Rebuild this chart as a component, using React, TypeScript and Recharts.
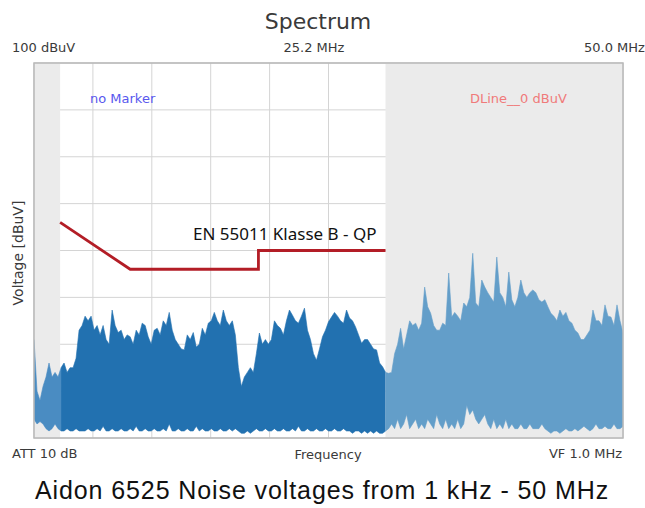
import React from "react";
import {
  ComposedChart,
  Area,
  Line,
  XAxis,
  YAxis,
  CartesianGrid,
  ReferenceArea,
} from "recharts";

// sweep: 0.4 MHz .. 50 MHz, one reading every ~0.25 MHz
const sweepStartMHz = 0.4;
const sweepStopMHz = 50;

// upper edge of the measured noise (dBuV)
const noiseHigh = [
  41, 30, 28, 31, 33, 36, 33, 34, 33, 35,
  36, 34, 35, 35, 37, 43, 44, 46, 45, 46,
  43, 44, 42, 44, 41, 40, 47.3, 44, 42.5, 43,
  41, 42, 41.6, 40, 43, 42, 44.5, 44, 41.6, 40,
  43, 43.4, 42, 45, 44, 46.8, 43, 41, 40, 39,
  38.8, 42, 41, 42.5, 39.4, 40, 43.4, 42, 44.5, 45,
  46.8, 45, 44, 47.3, 45, 44, 45, 42, 35, 31,
  33, 34, 35, 34, 38, 42.4, 40, 41, 40, 41,
  45, 44, 43.4, 42, 45, 47.3, 46.2, 45, 44.5, 46,
  47.7, 43, 41, 38, 36.6, 39, 41.6, 43, 44.8, 45.8,
  46.8, 46, 45, 44.5, 47.3, 45.6, 45, 43.7, 42, 40.2,
  41, 41, 40, 39, 38.8, 36, 35.2, 34, 33.8, 34,
  38, 40, 43.4, 39, 42, 45, 44, 44.5, 43, 44.5,
  52.2, 48, 46.6, 44, 43, 43, 44.5, 44, 55.2, 45.8,
  46.8, 46, 45, 48.8, 48, 50, 59.4, 48.8, 48, 53.7,
  52.2, 51, 50, 49, 58.6, 51, 50, 48, 55.4, 49.5,
  48, 50, 53.7, 51, 50, 51, 51.6, 51, 49.5, 49,
  49.5, 48, 46.6, 46, 45, 47.3, 46, 46.8, 45, 44.5,
  43, 42.4, 41, 41, 42, 43, 47.3, 45, 45, 44,
  48.4, 46, 45.8, 44, 48.4, 45, 42.4,
];

// lower edge of the measured noise (dBuV)
const noiseLow = [
  24, 23, 23.5, 23, 22, 21.5, 22, 23, 22, 21.5,
  21.5, 22, 21.5, 21.5, 22, 21.5, 21.5, 21.5, 22, 21.5,
  21.5, 22, 21.5, 22.5, 21.5, 21.5, 22, 21.5, 21.5, 22,
  21.5, 21.5, 22, 21.5, 22.5, 21.5, 21.5, 22, 21.5, 21.5,
  22, 21.5, 21.5, 22, 21.5, 23, 21.5, 21.5, 22, 21.5,
  21.5, 22, 21.5, 21.5, 22.5, 21.5, 22, 21.5, 21.5, 22,
  21.5, 21.5, 22, 21.5, 21.5, 22, 21.5, 22, 21.5, 21,
  21, 21.5, 21, 21.5, 22, 21.5, 21.5, 22, 21.5, 21.5,
  22, 21.5, 21.5, 22, 21.5, 21.5, 22, 21.5, 22.5, 21.5,
  21.5, 22, 21.5, 21.5, 22, 21.5, 21.5, 22, 21.5, 21.5,
  22, 21.5, 21.5, 22, 21.5, 21.5, 21, 21.5, 21.5, 21,
  21.5, 21, 21.5, 21, 21.5, 21, 21, 21.5, 22, 23,
  22, 24, 22, 23, 25, 22, 23, 24, 22, 23,
  22, 24, 23, 22, 25, 23, 22, 24, 22, 23,
  22, 24, 22, 23, 27, 25, 26, 24, 23, 24,
  25, 23, 22, 24, 22, 23, 22, 24, 22, 23,
  22, 22, 23, 22, 22, 23, 22, 22, 22, 23,
  22, 21.5, 21, 21.5, 21.5, 21, 21.5, 22, 21.5, 21.5,
  22, 21.5, 22, 22.5, 22, 21.5, 22, 23, 22, 22,
  22.5, 22, 22, 23, 22, 22, 22.5,
];

// where the shaded bands end (sweep index)
const stripEndIndex = 9;
const limitEndIndex = 117;

// EN 55011 class B quasi-peak limit
const limitFreq = [2.6, 8.5, 19.3, 19.3, 30];
const limitLevel = [66, 56, 56, 60, 60];

const freqTicks = [0.4, 5.36, 10.32, 15.28, 20.24, 25.2, 30.16, 35.12, 40.08, 45.04, 50];
const levelTicks = [20, 30, 40, 50, 60, 70, 80, 90, 100];

const stripEndMHz = 2.6;
const limitEndMHz = 30;

const step = (sweepStopMHz - sweepStartMHz) / (noiseHigh.length - 1);
const noiseRows = noiseHigh.map((high, i) => {
  const band = [noiseLow[i], high];
  return {
    f: sweepStartMHz + i * step,
    strip: i <= stripEndIndex ? band : null,
    dark: i >= stripEndIndex && i <= limitEndIndex ? band : null,
    light: i >= limitEndIndex ? band : null,
  };
});

const limitRows = limitFreq.map((f, i) => ({ f, level: limitLevel[i] }));

const txt = (
  text: string,
  left: number,
  top: number,
  style: React.CSSProperties = {}
) => (
  <div
    style={{
      position: "absolute",
      left,
      top,
      whiteSpace: "nowrap",
      lineHeight: 1,
      fontFamily: "'DejaVu Sans', sans-serif",
      fontSize: 13,
      color: "#3a3a3a",
      ...style,
    }}
  >
    {text}
  </div>
);

export default function App() {
  return (
    <div
      style={{
        position: "absolute",
        left: 0,
        top: 0,
        width: 645,
        height: 508,
        background: "#fff",
        overflow: "hidden",
      }}
    >
      <ComposedChart
        width={645}
        height={508}
        data={noiseRows}
        margin={{ top: 63, right: 22, bottom: 70, left: 34 }}
      >
        <XAxis
          dataKey="f"
          type="number"
          domain={[sweepStartMHz, sweepStopMHz]}
          ticks={freqTicks}
          allowDataOverflow
          hide
        />
        <YAxis type="number" domain={[20, 100]} ticks={levelTicks} hide />

        {/* shaded regions outside the limit range */}
        <ReferenceArea x1={sweepStartMHz} x2={stripEndMHz} y1={20} y2={100} fill="#ebebeb" fillOpacity={1} />
        <ReferenceArea x1={limitEndMHz} x2={sweepStopMHz} y1={20} y2={100} fill="#ebebeb" fillOpacity={1} />

        <CartesianGrid stroke="#d4d4d4" strokeWidth={1} />

        <Area
          dataKey="strip"
          type="linear"
          stroke="#4a8cc2"
          strokeWidth={0.6}
          fill="#4a8cc2"
          fillOpacity={1}
          isAnimationActive={false}
        />
        <Area
          dataKey="dark"
          type="linear"
          stroke="#2271b0"
          strokeWidth={0.6}
          fill="#2271b0"
          fillOpacity={1}
          isAnimationActive={false}
        />
        <Area
          dataKey="light"
          type="linear"
          stroke="#639ec9"
          strokeWidth={0.6}
          fill="#639ec9"
          fillOpacity={1}
          isAnimationActive={false}
        />

        <Line
          data={limitRows}
          dataKey="level"
          type="linear"
          stroke="#b31d26"
          strokeWidth={2.8}
          dot={false}
          isAnimationActive={false}
        />

        <ReferenceArea
          x1={sweepStartMHz}
          x2={sweepStopMHz}
          y1={20}
          y2={100}
          fill="none"
          stroke="#b8b8b8"
          strokeWidth={1.5}
        />
      </ComposedChart>

      {txt("Spectrum", 318, 11, { fontSize: 22, transform: "translateX(-50%)" })}
      {txt("100 dBuV", 12, 41)}
      {txt("25.2 MHz", 314, 41, { transform: "translateX(-50%)" })}
      {txt("50.0 MHz", 584, 41)}
      {txt("no Marker", 90, 92, { color: "#5858ee" })}
      {txt("DLine__0 dBuV", 470, 92, { color: "#f07a7a" })}
      {txt("Voltage [dBuV]", 18, 253, {
        fontSize: 14,
        transform: "translate(-50%, -50%) rotate(-90deg)",
      })}
      {txt("EN 55011 Klasse B - QP", 193, 225, {
        fontFamily: "'Noto Sans', sans-serif",
        fontSize: 17,
        color: "#111",
      })}
      {txt("ATT 10 dB", 12, 447)}
      {txt("Frequency", 328, 448, { transform: "translateX(-50%)" })}
      {txt("VF 1.0 MHz", 622, 447, { transform: "translateX(-100%)" })}
      {txt("Aidon 6525 Noise voltages from 1 kHz - 50 MHz", 322, 478, {
        fontFamily: "'Liberation Sans', Arial, sans-serif",
        fontSize: 25,
        letterSpacing: 0.9,
        color: "#111",
        transform: "translateX(-50%)",
      })}
    </div>
  );
}
